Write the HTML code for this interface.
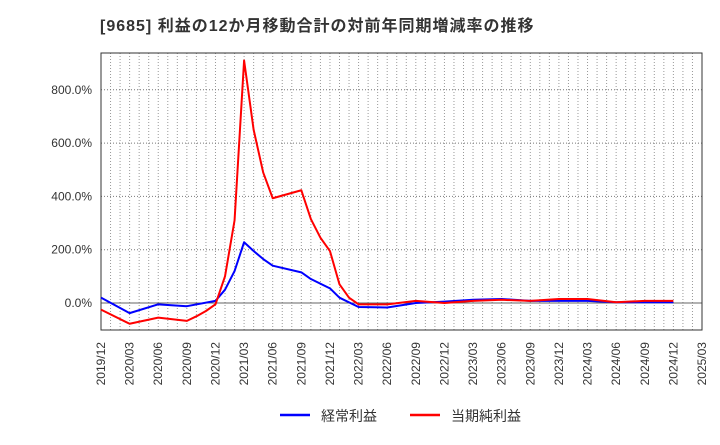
<!DOCTYPE html>
<html><head><meta charset="utf-8"><style>
body{margin:0;background:#fff;width:720px;height:440px;overflow:hidden}
text{font-family:"Liberation Sans","Noto Sans CJK JP",sans-serif;fill:#333}
</style></head><body>
<svg id="chart" width="720" height="440">
<text x="100" y="31" font-size="16" letter-spacing="1" font-weight="bold">[9685]  利益の12か月移動合計の対前年同期増減率の推移</text>
<g id="grid"></g>
<g id="axes"></g>
<g id="lines"></g>
<g>
<line x1="280" y1="415" x2="310" y2="415" stroke="#0000ff" stroke-width="2.5"/>
<text x="321" y="421" font-size="14">経常利益</text>
<line x1="410" y1="415" x2="440" y2="415" stroke="#ff0000" stroke-width="2.5"/>
<text x="451" y="421" font-size="14">当期純利益</text>
</g>
</svg>
<script>
const xLabels=["2019/12","2020/03","2020/06","2020/09","2020/12","2021/03","2021/06","2021/09","2021/12","2022/03","2022/06","2022/09","2022/12","2023/03","2023/06","2023/09","2023/12","2024/03","2024/06","2024/09","2024/12","2025/03"];
const yTicks=[0,200,400,600,800];
const blueMonths=[0,3,6,9,12,13,14,15,16,17,18,21,22,24,25,27,30,33,36,39,42,45,48,51,54,57,60];
const blueValues=[20,-38,-5,-12,8,50,120,228,195,165,140,115,90,55,20,-15,-17,0,5,12,15,8,8,8,3,3,3];
const redMonths=[0,3,6,9,10,11,12,13,14,15,16,17,18,21,22,23,24,25,26,27,30,33,36,39,42,45,48,51,54,57,60];
const redValues=[-25,-78,-55,-67,-50,-30,-5,100,310,910,650,490,393,423,315,245,195,70,20,-5,-5,8,0,8,12,8,15,15,3,8,8];
const L=101,R=702,T=53,B=330;
const xs=m=>L+m*(R-L)/63;
const ys=v=>303-v*0.2665;
const NS="http://www.w3.org/2000/svg";
function mk(tag,attrs,parent){const e=document.createElementNS(NS,tag);for(const k in attrs)e.setAttribute(k,attrs[k]);parent.appendChild(e);return e;}
const grid=document.getElementById('grid'),axes=document.getElementById('axes'),lines=document.getElementById('lines');
for(let m=1;m<63;m++){const l=mk('line',{x1:xs(m),x2:xs(m),y1:T,y2:B,stroke:'#999','stroke-dasharray':'1,2','stroke-width':1},grid);

}
yTicks.forEach(v=>{const l=mk('line',{x1:L,x2:R,y1:ys(v),y2:ys(v),stroke:v===0?'#666':'#777','stroke-dasharray':v===0?'':'1,2','stroke-width':1},grid);


const t=mk('text',{x:L-9,y:ys(v)+4,'text-anchor':'end','font-size':12},axes);t.textContent=v.toFixed(1)+'%';

});
const f=mk('rect',{x:L,y:T,width:R-L,height:B-T,fill:'none',stroke:'#333','stroke-width':1},axes);


xLabels.forEach((s,i)=>{const x=xs(i*3)+4;const t=mk('text',{x:0,y:0,'text-anchor':'end','font-size':12,transform:`translate(${x},342) rotate(-90)`},axes);t.textContent=s;

});
function draw(ms,vs,c,name){const p=mk('polyline',{points:ms.map((m,i)=>xs(m)+','+ys(vs[i])).join(' '),fill:'none',stroke:c,'stroke-width':2,'stroke-linejoin':'round'},lines);

}
draw(blueMonths,blueValues,'#0000ff','ordinary-profit-line');
draw(redMonths,redValues,'#ff0000','net-profit-line');
</script>
</body></html>
